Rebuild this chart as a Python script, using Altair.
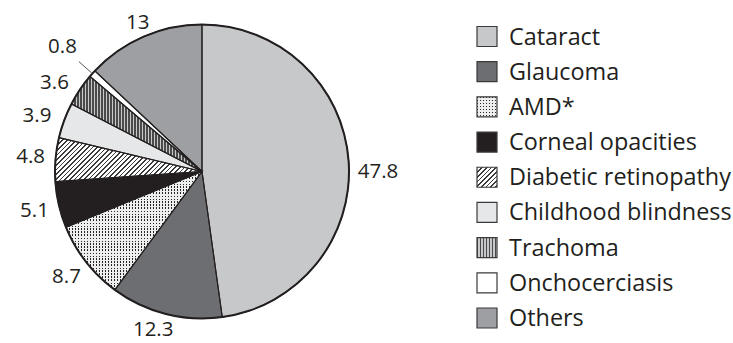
import math
from itertools import accumulate

import altair as alt
import pandas as pd

# ---- data -------------------------------------------------------------
causes = [
    "Cataract", "Glaucoma", "AMD*", "Corneal opacities", "Diabetic retinopathy",
    "Childhood blindness", "Trachoma", "Onchocerciasis", "Others",
]
shares = [47.8, 12.3, 8.7, 5.1, 4.8, 3.9, 3.6, 0.8, 13]
value_labels = ["47.8", "12.3", "8.7", "5.1", "4.8", "3.9", "3.6", "0.8", "13"]

# ---- styling ----------------------------------------------------------
INK = "#231f20"
FONT = "Open Sans"
solid_fills = ["#c7c8ca", "#6d6e71", "#ededed", "#231f20", "#ffffff",
               "#e6e7e8", "#bcbdbf", "#ffffff", "#9d9fa2"]

PIE_W, PIE_H = 404, 343
LEG_W = 329
R = 147
CX, CY = PIE_W / 2, PIE_H / 2
LABEL_R = 172
label_radius = {"Onchocerciasis": 187, "Glaucoma": 166, "Others": 162,
                "Cataract": 176, "Childhood blindness": 174}
label_shift = {"Cataract": 1.1, "Glaucoma": 0.8, "Trachoma": -0.8,
               "Childhood blindness": -0.5}  # percent of circle
leader_for = {"Onchocerciasis"}
SWATCH = 20


def wedge_box(p0, p1, r):
    """Width/height of the bounding box of a pie wedge (percent angles)."""
    a0, a1 = 2 * math.pi * p0 / 100, 2 * math.pi * p1 / 100
    angles = [a0, a1] + [k * math.pi / 2 for k in range(5) if a0 < k * math.pi / 2 < a1]
    xs = [0.0] + [r * math.sin(a) for a in angles]
    ys = [0.0] + [-r * math.cos(a) for a in angles]
    return max(xs) - min(xs), max(ys) - min(ys)


def stripes(w, h, dx, dy, period, line, gap, frac):
    """Linear gradient with hard stops that reads as hatching of a w x h box.

    (dx, dy) is the direction across the stripes, in screen pixels.
    """
    adx, ady = abs(dx), abs(dy)
    span = adx * w + ady * h
    k = span / (adx ** 2 * w ** 2 + ady ** 2 * h ** 2)
    a, b = k * adx * w, k * ady * h
    x1 = 0 if dx >= 0 else 1
    y1 = 0 if dy >= 0 else 1
    x2 = x1 + (a if dx >= 0 else -a)
    y2 = y1 + (b if dy >= 0 else -b)
    step = period * math.hypot(dx, dy) / span
    stops = []
    o = 0.0
    while o < 1:
        e = min(o + step * frac, 1.0)
        g = min(o + step, 1.0)
        stops.append({"offset": round(o, 5), "color": line})
        stops.append({"offset": round(e, 5), "color": line})
        if e < 1:
            stops.append({"offset": round(e, 5), "color": gap})
            stops.append({"offset": round(g, 5), "color": gap})
        o += step
    return {"gradient": "linear", "x1": x1, "y1": y1, "x2": x2, "y2": y2, "stops": stops}


def patterns(w, h):
    """Pattern layers (fills drawn on top of each other) per cause."""
    return {
        # dark rows masked by light columns leave a grid of small dots
        "AMD*": [
            stripes(w, h, 0, 1, 3.0, "#262626", "#eeeeee", 0.45),
            stripes(w, h, 1, 0, 3.0, "rgba(0,0,0,0)", "#eeeeee", 0.45),
        ],
        "Diabetic retinopathy": [stripes(w, h, 1, 1, 3.3, "#3a3a3a", "#ffffff", 0.33)],
        "Trachoma": [stripes(w, h, 1, 0, 3.0, "#4a4a4a", "#c8c9cb", 0.4)],
    }


# ---- table ------------------------------------------------------------
ends = list(accumulate(shares))
starts = [e - s for e, s in zip(ends, shares)]
df = pd.DataFrame({
    "cause": causes,
    "share": shares,
    "label": value_labels,
    "start": starts,
    "end": ends,
})
df["mid"] = (df["start"] + df["end"]) / 2
df["lab_pos"] = df["mid"] + df["cause"].map(label_shift).fillna(0)
df["lab_r"] = df["cause"].map(label_radius).fillna(LABEL_R)
df["leader"] = df["cause"].isin(leader_for)

color_scale = alt.Scale(domain=causes, range=solid_fills)
theta_scale = alt.Scale(domain=[0, 100])

base = alt.Chart(df)
wedge_enc = dict(
    theta=alt.Theta("start:Q", scale=theta_scale),
    theta2="end:Q",
)

pie_layers = [
    base.mark_arc(radius=R).encode(
        color=alt.Color("cause:N", scale=color_scale, legend=None), **wedge_enc
    )
]

for cause in ["AMD*", "Diabetic retinopathy", "Trachoma"]:
    row = df[df["cause"] == cause].iloc[0]
    w, h = wedge_box(row["start"], row["end"], R)
    for fill in patterns(w, h)[cause]:
        pie_layers.append(
            base.mark_arc(radius=R, fill=fill)
            .encode(**wedge_enc)
            .transform_filter(alt.datum.cause == cause)
        )

# wedge outlines and the heavier rim
pie_layers.append(
    base.mark_arc(radius=R, fill="#ffffff", fillOpacity=0, stroke=INK, strokeWidth=1.1)
    .encode(**wedge_enc)
)
pie_layers.append(
    base.mark_arc(radius=R + 1, radius2=R - 1, color=INK).encode(**wedge_enc)
)

# leader line for the thin slice
ang = "2 * PI * datum.mid / 100"
pie_layers.append(
    base.transform_filter(alt.datum.leader)
    .transform_calculate(
        lx1=f"{CX} + {R + 1} * sin({ang})",
        ly1=f"{CY} - {R + 1} * cos({ang})",
        lx2=f"{CX} + {R + 18} * sin({ang})",
        ly2=f"{CY} - {R + 18} * cos({ang})",
    )
    .mark_rule(color="#555555", strokeWidth=1)
    .encode(
        x=alt.X("lx1:Q", scale=None),
        y=alt.Y("ly1:Q", scale=None),
        x2="lx2:Q",
        y2="ly2:Q",
    )
)

# value labels around the pie
pie_layers.append(
    base.mark_text(font=FONT, fontSize=20.5, color=INK).encode(
        theta=alt.Theta("lab_pos:Q", scale=theta_scale, stack=False),
        radius=alt.Radius("lab_r:Q", scale=None),
        text="label:N",
    )
)

pie = alt.layer(*pie_layers).properties(width=PIE_W, height=PIE_H)

# ---- legend -----------------------------------------------------------
leg_y = alt.Y("cause:N", sort=causes, axis=None,
              scale=alt.Scale(type="point", range=[36.5, 318], padding=0))
sw_x = alt.value(83)
leg_layers = [
    base.mark_square(size=SWATCH * SWATCH, opacity=1).encode(
        x=sw_x, y=leg_y,
        color=alt.Color("cause:N", scale=color_scale, legend=None),
    )
]
for cause, fills in patterns(SWATCH, SWATCH).items():
    for fill in fills:
        leg_layers.append(
            base.mark_square(size=SWATCH * SWATCH, opacity=1, fill=fill)
            .encode(x=sw_x, y=leg_y)
            .transform_filter(alt.datum.cause == cause)
        )
leg_layers.append(
    base.mark_square(size=SWATCH * SWATCH, fill="#ffffff", fillOpacity=0,
                     stroke="#3a3a3a", strokeWidth=1.2)
    .encode(x=sw_x, y=leg_y)
)
leg_layers.append(
    base.mark_text(font=FONT, fontSize=23.4, color=INK, align="left", dy=1)
    .encode(x=alt.value(105), y=leg_y, text="cause:N")
)
legend = alt.layer(*leg_layers).properties(width=LEG_W, height=PIE_H)

chart = (
    alt.hconcat(pie, legend, spacing=0, padding=0, background="#ffffff")
    .configure_view(stroke="transparent", strokeWidth=0)
)

chart.save("out.html", embed_options={"renderer": "svg", "actions": False})
